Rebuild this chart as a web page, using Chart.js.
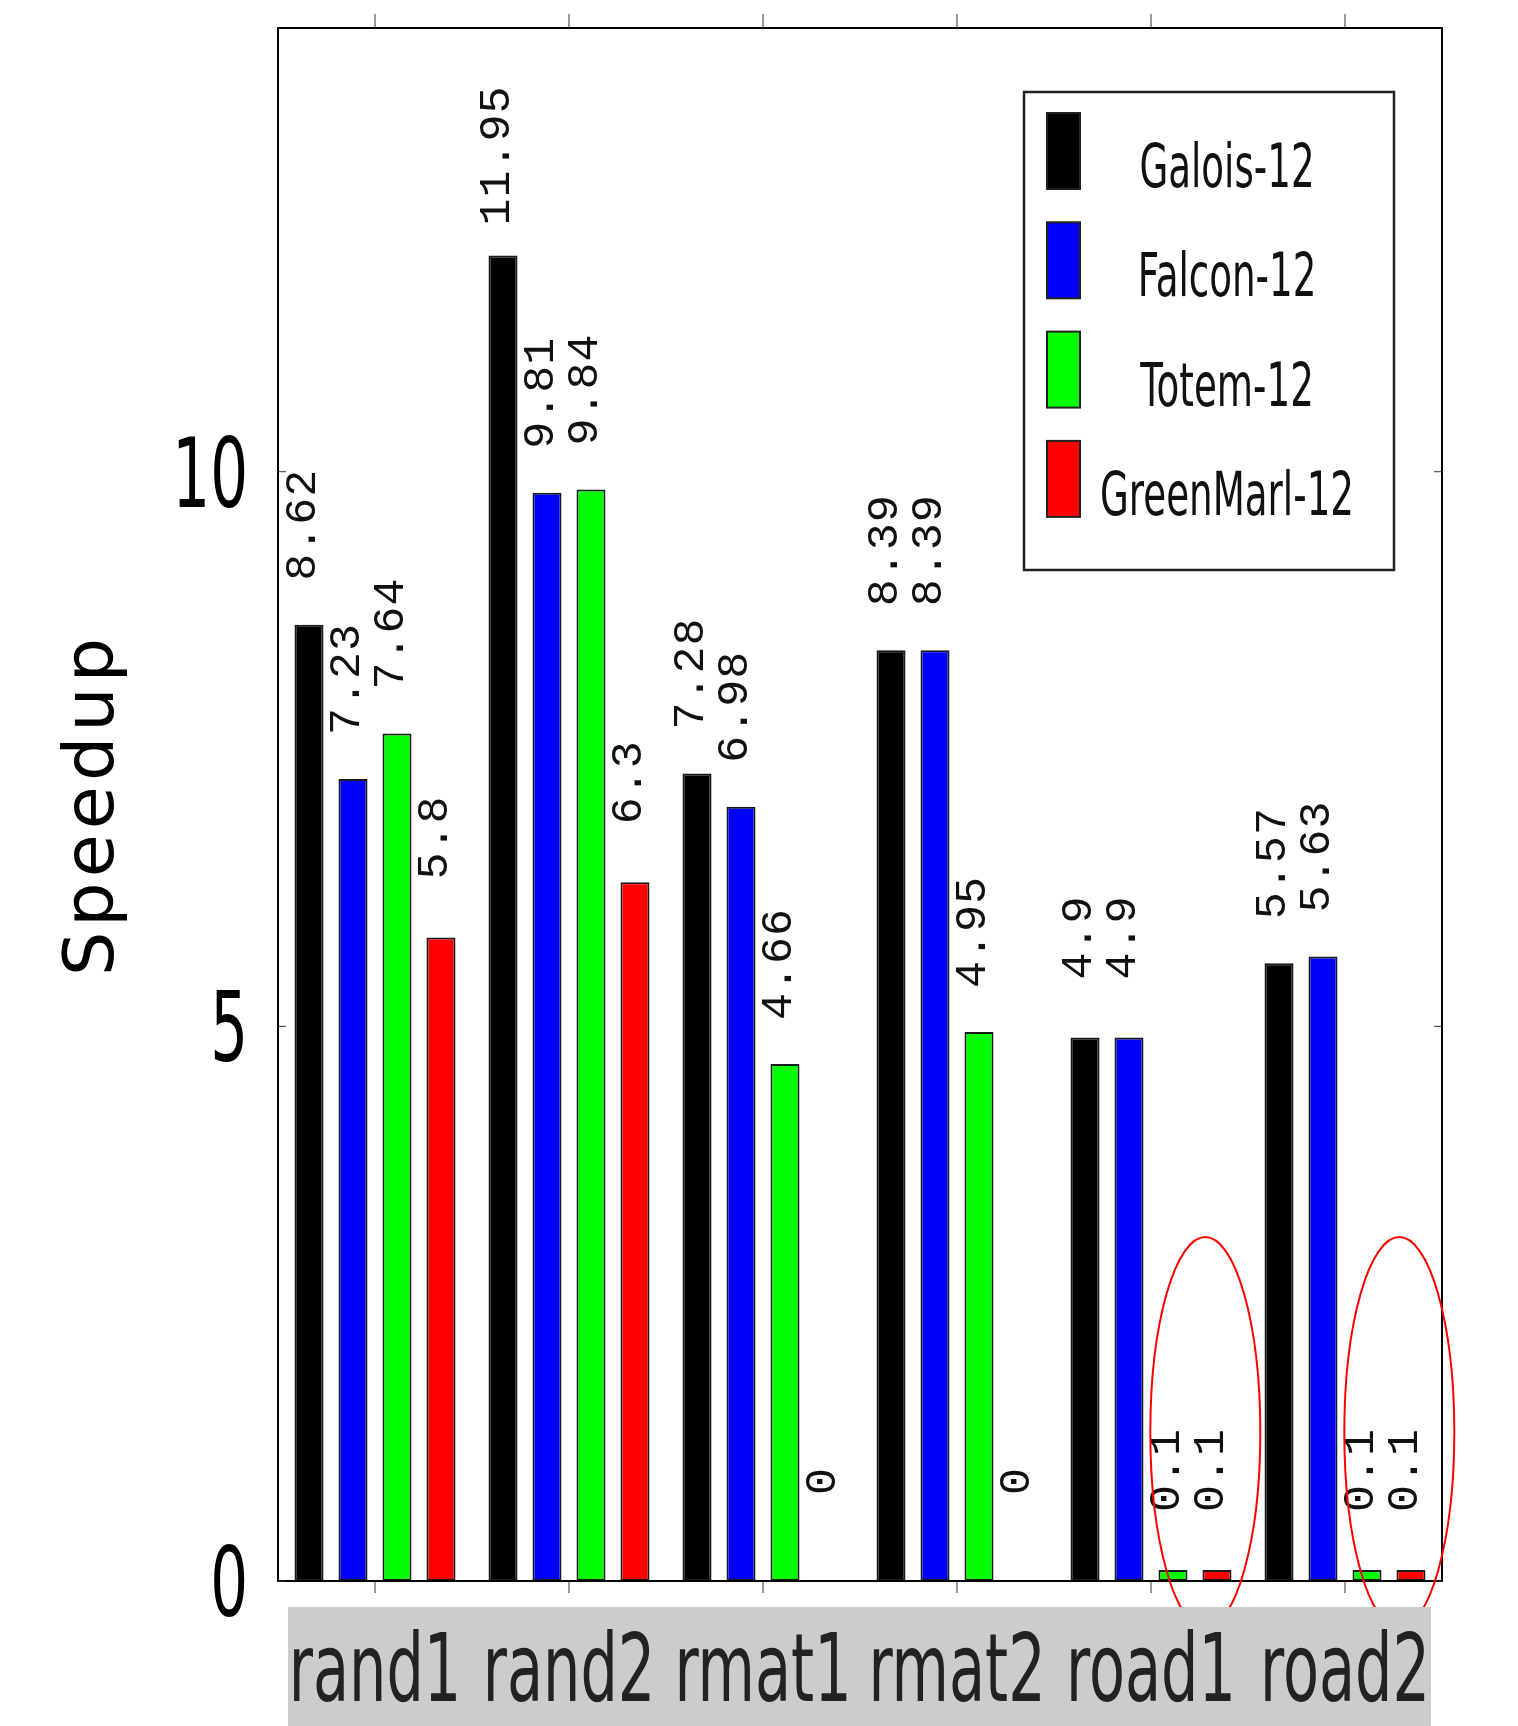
<!DOCTYPE html>
<html lang="en">
<head>
  <meta charset="UTF-8" />
  <title>Speedup</title>
  <script src="https://cdn.jsdelivr.net/npm/chart.js"></script>
  <style>
    body {
      margin: 0;
      background: white;
    }
    canvas {
      display: block;
    }
  </style>
</head>
<body>
  <canvas id="speedChart" width="1518" height="1726"></canvas>

  <script>
    const graphs = ['rand1', 'rand2', 'rmat1', 'rmat2', 'road1', 'road2'];
    const galois = [8.62, 11.95, 7.28, 8.39, 4.9, 5.57];
    const falcon = [7.23, 9.81, 6.98, 8.39, 4.9, 5.63];
    const totem = [7.64, 9.84, 4.66, 4.95, 0.1, 0.1];
    const greenMarl = [5.8, 6.3, 0, 0, 0.1, 0.1];
    const yTickValues = [0, 5, 10];
    // graphs where the tiny bars are circled
    const circled = ['road1', 'road2'];

    const condensed = 0.62;

    function drawCondensed(ctx, text, x, y, align) {
      ctx.save();
      ctx.translate(x, y);
      ctx.scale(condensed, 1);
      ctx.textAlign = align;
      ctx.fillText(text, 0, 0);
      ctx.restore();
    }

    const decorPlugin = {
      id: 'decor',
      afterDatasetsDraw(chart) {
        const ctx = chart.ctx;
        const area = chart.chartArea;
        const xs = chart.scales.x;
        const ys = chart.scales.y;

        // value labels above the bars
        ctx.save();
        ctx.fillStyle = '#111';
        ctx.font = '45px "Liberation Mono"';
        ctx.letterSpacing = '1px';
        chart.data.datasets.forEach((ds, i) => {
          chart.getDatasetMeta(i).data.forEach((bar, j) => {
            ctx.save();
            ctx.translate(bar.x - 6, bar.y - 100);
            ctx.rotate(-Math.PI / 2);
            ctx.textAlign = 'center';
            ctx.textBaseline = 'middle';
            ctx.fillText(String(ds.data[j]), 0, 0);
            ctx.restore();
          });
        });
        ctx.restore();

        // frame
        ctx.save();
        ctx.strokeStyle = '#000';
        ctx.lineWidth = 2;
        ctx.strokeRect(area.left, area.top, area.right - area.left, area.bottom - area.top);

        // ticks
        ctx.lineWidth = 1;
        ctx.strokeStyle = '#333';
        ctx.beginPath();
        graphs.forEach((g, i) => {
          const px = xs.getPixelForValue(i);
          ctx.moveTo(px, area.top);
          ctx.lineTo(px, area.top - 14);
          ctx.moveTo(px, area.bottom);
          ctx.lineTo(px, area.bottom + 12);
        });
        yTickValues.forEach(v => {
          const py = ys.getPixelForValue(v);
          ctx.moveTo(area.left, py);
          ctx.lineTo(area.left + 8, py);
          ctx.moveTo(area.right, py);
          ctx.lineTo(area.right - 8, py);
        });
        ctx.stroke();
        ctx.restore();

        // red circles around the near-zero bars
        ctx.save();
        ctx.strokeStyle = '#ff0000';
        ctx.lineWidth = 2;
        const catW = (area.right - area.left) / graphs.length;
        circled.forEach(g => {
          const i = graphs.indexOf(g);
          const cx = xs.getPixelForValue(i) + 0.28 * catW;
          const cy = ys.getPixelForValue(1.34);
          const ry = cy - ys.getPixelForValue(3.1);
          ctx.beginPath();
          ctx.ellipse(cx, cy, 55, ry, 0, 0, Math.PI * 2);
          ctx.stroke();
        });
        ctx.restore();
      },
      afterDraw(chart) {
        const ctx = chart.ctx;
        const area = chart.chartArea;
        const xs = chart.scales.x;
        const ys = chart.scales.y;

        // grey band behind category names
        ctx.save();
        ctx.fillStyle = '#cccccc';
        ctx.fillRect(area.left + 10, area.bottom + 26, area.right - area.left - 21, chart.height - area.bottom - 26);

        ctx.fillStyle = '#222';
        ctx.font = '95px "DejaVu Sans"';
        graphs.forEach((g, i) => {
          drawCondensed(ctx, g, xs.getPixelForValue(i), area.bottom + 120, 'center');
        });

        // y tick labels
        ctx.fillStyle = '#000';
        ctx.font = '96px "DejaVu Sans"';
        yTickValues.forEach(v => {
          drawCondensed(ctx, String(v), area.left - 30, ys.getPixelForValue(v) + 35, 'right');
        });

        // axis title
        ctx.save();
        ctx.translate(113, (area.top + area.bottom) / 2);
        ctx.rotate(-Math.PI / 2);
        ctx.font = '70px "DejaVu Sans"';
        ctx.letterSpacing = '5px';
        ctx.textAlign = 'center';
        ctx.fillText('Speedup', 0, 0);
        ctx.restore();

        // legend
        const lx = 1024, ly = 92, lw = 370, lh = 478;
        ctx.fillStyle = '#fff';
        ctx.fillRect(lx, ly, lw, lh);
        ctx.strokeStyle = '#222';
        ctx.lineWidth = 2.5;
        ctx.strokeRect(lx, ly, lw, lh);
        ctx.font = '60px "DejaVu Sans"';
        chart.data.datasets.forEach((ds, i) => {
          const top = ly + 21 + i * 109.3;
          ctx.fillStyle = ds.backgroundColor;
          ctx.fillRect(lx + 23, top, 33, 76);
          ctx.lineWidth = 2;
          ctx.strokeStyle = '#222';
          ctx.strokeRect(lx + 23, top, 33, 76);
          ctx.fillStyle = '#111';
          drawCondensed(ctx, ds.label, 1227, top + 74, 'center');
        });
        ctx.restore();
      }
    };

    const ctx = document.getElementById('speedChart').getContext('2d');
    new Chart(ctx, {
      type: 'bar',
      data: {
        labels: graphs,
        datasets: [
          { label: 'Galois-12', data: galois, backgroundColor: '#000000' },
          { label: 'Falcon-12', data: falcon, backgroundColor: '#0000ff' },
          { label: 'Totem-12', data: totem, backgroundColor: '#00ff00' },
          { label: 'GreenMarl-12', data: greenMarl, backgroundColor: '#ff0000' }
        ].map(d => Object.assign(d, { borderColor: '#1a1a1a', borderWidth: 2, borderSkipped: false }))
      },
      options: {
        responsive: false,
        animation: false,
        categoryPercentage: 0.907,
        barPercentage: 0.66,
        layout: { padding: { left: 270, right: 76, top: 28, bottom: 137 } },
        plugins: {
          legend: { display: false },
          tooltip: { enabled: false }
        },
        scales: {
          x: {
            grid: { display: false },
            border: { display: false },
            ticks: { display: false }
          },
          y: {
            min: 0,
            max: 14,
            grid: { display: false },
            border: { display: false },
            ticks: { display: false, stepSize: 5 }
          }
        }
      },
      plugins: [decorPlugin]
    });
  </script>
</body>
</html>
